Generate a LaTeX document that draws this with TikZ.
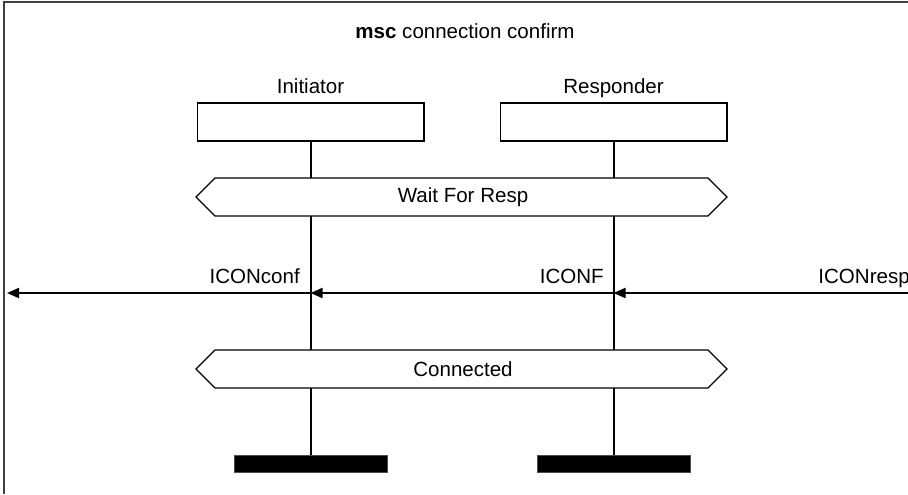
\documentclass[tikz,border=0pt]{standalone}
\usepackage{fontspec}
\setmainfont{Liberation Sans}
\usetikzlibrary{arrows.meta}
\begin{document}
\begin{tikzpicture}[x=0.75pt,y=-0.75pt,
  txt/.style={inner sep=0pt,anchor=base,font=\fontsize{15.4}{18}\selectfont},
  lbl/.style={inner sep=0pt,anchor=base east,font=\fontsize{15.4}{18}\selectfont},
  instbox/.style={draw,line width=1pt,minimum width=170pt,minimum height=28.5pt,inner sep=0pt},
  endbar/.style={fill=black,draw=black!70,line width=0.6pt,minimum width=114.75pt,minimum height=12.75pt,inner sep=0pt},
  life/.style={line width=1.5pt},
  hexa/.style={line width=1pt},
  msg/.style={line width=1.5pt,-{Triangle[length=9pt,width=7.5pt]}},
  frameline/.style={line width=1.5pt,draw=black!75}]
\useasboundingbox (0,0) rectangle (908,494);
\clip (0,0) rectangle (908,494);
% frame
\draw[frameline] (4,494) -- (4,1.5) -- (908,1.5);
\node[txt] (title) at (465,38) {\textbf{msc} connection confirm};
% instances
\node[txt] (iname) at (310.5,93) {Initiator};
\node[txt] (rname) at (613.5,93) {Responder};
\node[instbox] (ibox) at (310.5,122) {};
\node[instbox] (rbox) at (613.5,122) {};
% condition 1
\draw[hexa] (215,178) -- (708,178) -- (727,197) -- (708,216) -- (215,216) -- (196,197) -- cycle;
\node[inner sep=0pt,font=\fontsize{15.4}{18}\selectfont] (wait) at (463,197) {Wait For Resp};
% condition 2
\draw[hexa] (215,350) -- (708,350) -- (727,369) -- (708,388) -- (215,388) -- (196,369) -- cycle;
\node[inner sep=0pt,font=\fontsize{15.4}{18}\selectfont] (conn) at (463,369) {Connected};
% coordinates on lifelines
\coordinate (i1) at (310.5,178);
\coordinate (i2) at (310.5,216);
\coordinate (i3) at (310.5,350);
\coordinate (i4) at (310.5,388);
\coordinate (r1) at (613.5,178);
\coordinate (r2) at (613.5,216);
\coordinate (r3) at (613.5,350);
\coordinate (r4) at (613.5,388);
\coordinate (im) at (310.5,293);
\coordinate (rm) at (613.5,293);
\coordinate (envl) at (7,293);
\coordinate (envr) at (930,293);
% end bars
\node[endbar] (iend) at (310.5,463.5) {};
\node[endbar] (rend) at (613.5,463.5) {};
% lifelines
\draw[life] (ibox.south) -- (i1);
\draw[life] (i2) -- (i3);
\draw[life] (i4) -- (iend.north);
\draw[life] (rbox.south) -- (r1);
\draw[life] (r2) -- (r3);
\draw[life] (r4) -- (rend.north);
% messages
\draw[msg] (envr) -- (rm);
\draw[msg] (rm) -- (im);
\draw[msg] (im) -- (envl);
\node[lbl] (m1) at (300,283) {ICONconf};
\node[lbl] (m2) at (604,283) {ICONF};
\node[lbl] (m3) at (910,283) {ICONresp};
\end{tikzpicture}
\end{document}
